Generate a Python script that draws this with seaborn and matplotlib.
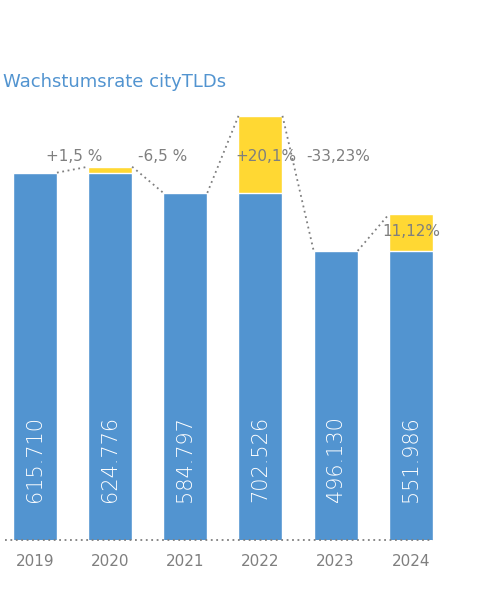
import numpy as np
import pandas as pd
import matplotlib
matplotlib.use("Agg")
import matplotlib.pyplot as plt
import seaborn as sns

years = ["2019", "2020", "2021", "2022", "2023", "2024"]
values = [615710, 624776, 584797, 702526, 496130, 551986]
value_labels = ["615.710", "624.776", "584.797", "702.526", "496.130", "551.986"]
growth_labels = ["+1,5 %", "-6,5 %", "+20,1%", "-33,23%", "11,12%"]

blue = "#5294d0"
yellow = "#ffd833"
grey = "#7f7f7f"

# blue part = previous level when growing, yellow = the increase
base = [values[0]] + [min(p, c) for p, c in zip(values[:-1], values[1:])]
df = pd.DataFrame({"year": years, "total": values, "base": base})

sns.set_theme(style="white")
fig = plt.figure(figsize=(4.83, 5.96), dpi=100)
ax = fig.add_axes([0, 56 / 596, 1, 540 / 596])

w = 0.585
sns.barplot(data=df, x="year", y="total", color=yellow, width=w, saturation=1, ax=ax)
sns.barplot(data=df, x="year", y="base", color=blue, width=w, saturation=1, ax=ax)

ymin = 54000
scale = 0.000654
ax.set_ylim(ymin, ymin + 540 / scale)
ax.set_xlim(-0.465, 5.96)
ax.axis("off")

# connectors between bar tops
for i in range(len(values) - 1):
    ax.plot([i + w / 2, i + 1 - w / 2], [values[i], values[i + 1]],
            ls=(0, (1, 2)), color=grey, lw=1.3)
ax.plot([-0.4, 5.3], [ymin, ymin], ls=(0, (1, 2)), color=grey, lw=1.3, clip_on=False)

for i, lab in enumerate(value_labels):
    ax.text(i, ymin + 38 / scale, lab, rotation=90, color="white", fontsize=15,
            fontweight="light", ha="center", va="bottom")
    ax.text(i, ymin - 22 / scale, years[i], color=grey, fontsize=11,
            ha="center", va="center", clip_on=False)

label_x = [0.52, 1.7, 3.07, 4.04, 5.0]
label_px = [157, 157, 157, 157, 232]
for lab, x, py in zip(growth_labels, label_x, label_px):
    ax.text(x, ymin + (540 - py) / scale, lab, color=grey, fontsize=11,
            ha="center", va="center")

fig.text(3 / 483, 1 - 82 / 596, "Wachstumsrate cityTLDs", color=blue, fontsize=13,
         ha="left", va="center")

fig.savefig("out.png", dpi=100)
